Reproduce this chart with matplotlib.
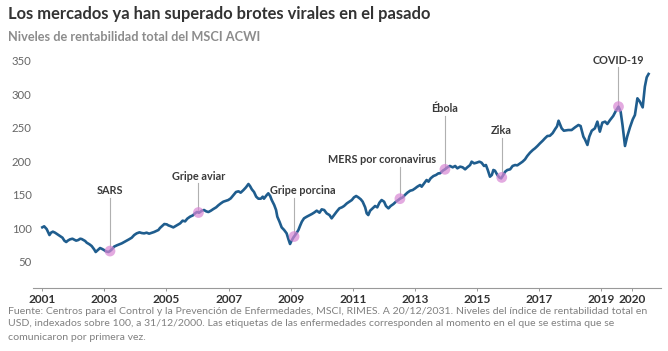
import numpy as np
import matplotlib
matplotlib.use("Agg")
import matplotlib.pyplot as plt

plt.rcParams['font.family'] = ['Lato', 'DejaVu Sans']

# MSCI ACWI total return, indexed 100 at 31/12/2000
years = [
    2001.00, 2001.06, 2001.14, 2001.23, 2001.28, 2001.34, 2001.41, 2001.49, 2001.57, 2001.65,
    2001.71, 2001.77, 2001.82, 2001.89, 2001.97, 2002.03, 2002.09, 2002.16, 2002.22, 2002.27,
    2002.32, 2002.38, 2002.43, 2002.52, 2002.59, 2002.67, 2002.72, 2002.79, 2002.86, 2002.91,
    2002.99, 2003.05, 2003.13, 2003.18, 2003.24, 2003.31, 2003.40, 2003.48, 2003.56, 2003.64,
    2003.72, 2003.79, 2003.88, 2003.96, 2004.04, 2004.13, 2004.20, 2004.28, 2004.36, 2004.44,
    2004.53, 2004.60, 2004.69, 2004.74, 2004.79, 2004.87, 2004.93, 2005.01, 2005.06,
    2005.12, 2005.22, 2005.33, 2005.44, 2005.52, 2005.60, 2005.67, 2005.76, 2005.85, 2005.92,
    2005.98, 2006.05, 2006.14, 2006.21, 2006.28, 2006.35, 2006.43, 2006.51, 2006.60, 2006.67,
    2006.75, 2006.83, 2006.92, 2006.99, 2007.07, 2007.16, 2007.24, 2007.32, 2007.39, 2007.48,
    2007.56, 2007.64, 2007.69, 2007.75, 2007.82, 2007.89, 2007.96, 2008.04, 2008.10, 2008.14,
    2008.23, 2008.28, 2008.34, 2008.39, 2008.47, 2008.53, 2008.57, 2008.64, 2008.71, 2008.79,
    2008.87, 2008.93, 2008.98, 2009.03, 2009.09, 2009.17, 2009.25, 2009.30, 2009.36, 2009.43,
    2009.52, 2009.60, 2009.68, 2009.75,
    2009.84, 2009.93, 2010.00, 2010.08, 2010.16, 2010.25, 2010.32, 2010.40, 2010.48, 2010.57,
    2010.65, 2010.72, 2010.81, 2010.89, 2010.97, 2011.04, 2011.11, 2011.18, 2011.26, 2011.32,
    2011.40, 2011.45, 2011.50, 2011.56, 2011.64, 2011.72, 2011.79, 2011.86, 2011.93, 2012.01,
    2012.07, 2012.15, 2012.22, 2012.31, 2012.39, 2012.47, 2012.52, 2012.61, 2012.68, 2012.76,
    2012.85, 2012.93, 2013.01, 2013.08, 2013.17, 2013.22, 2013.30, 2013.38, 2013.44, 2013.51,
    2013.60, 2013.68, 2013.76,
    2013.81, 2013.90, 2013.97, 2014.05, 2014.13, 2014.22, 2014.30, 2014.37, 2014.46, 2014.54,
    2014.62, 2014.69, 2014.78, 2014.83, 2014.91, 2014.99, 2015.08, 2015.15, 2015.23, 2015.29,
    2015.35, 2015.42, 2015.48, 2015.53, 2015.58, 2015.66, 2015.72, 2015.78, 2015.85, 2015.91,
    2015.98, 2016.07, 2016.15, 2016.23, 2016.30, 2016.39, 2016.47, 2016.55, 2016.62, 2016.71,
    2016.80, 2016.87, 2016.95, 2017.03, 2017.12, 2017.19, 2017.27, 2017.35, 2017.44, 2017.52,
    2017.58, 2017.63,
    2017.73, 2017.80, 2017.94, 2018.05, 2018.16, 2018.27, 2018.34, 2018.43, 2018.48, 2018.56,
    2018.62, 2018.70, 2018.80, 2018.88, 2018.96, 2019.04, 2019.13, 2019.20, 2019.29, 2019.39,
    2019.48, 2019.56, 2019.63, 2019.69, 2019.77, 2019.84, 2019.93, 2020.02, 2020.09, 2020.17,
    2020.25, 2020.34, 2020.41, 2020.47, 2020.53,
]
index_level = [
    101.5, 103.0, 98.9, 90.0, 93.5, 95.0, 93.5, 91.0, 88.5, 86.0,
    81.6, 79.6, 81.6, 83.5, 84.5, 83.0, 81.6, 82.6, 84.5, 84.0,
    82.6, 81.1, 78.6, 76.1, 73.6, 68.6, 64.7, 67.6, 70.6, 69.6,
    67.6, 65.6, 64.7, 66.1, 68.6, 72.6, 74.6, 76.1, 77.6, 79.6,
    81.6, 83.5, 86.0, 90.0, 92.5, 94.0, 93.0, 92.5, 93.5, 92.0,
    93.5, 94.5, 96.5, 97.5, 100.5, 104.0, 106.4, 105.9, 104.4,
    103.4, 101.4, 104.4, 107.4, 111.4, 110.4, 114.4, 117.4, 119.3, 122.3,
    124.3, 123.3, 126.3, 127.3, 125.3, 124.3, 126.3, 128.8, 131.3, 134.3,
    137.2, 139.7, 141.2, 142.2, 144.7, 149.7, 154.2, 155.2, 153.2, 157.1,
    161.1, 166.1, 163.1, 158.1, 154.2, 147.2, 144.2, 144.2, 147.2, 144.2,
    149.7, 152.2, 148.2, 142.2, 134.8, 127.3, 117.4, 109.9, 101.4, 97.5,
    92.5, 83.5, 76.6, 81.6, 86.5, 91.5, 97.5, 103.4, 109.9, 114.9,
    117.4, 119.3, 121.3, 123.3,
    126.3, 123.3, 128.3, 127.3, 122.3, 119.8, 114.9, 119.8, 124.8, 129.8,
    131.3, 133.3, 137.2, 139.7, 142.2, 146.2, 148.2, 146.2, 143.2, 139.7,
    131.3, 122.3, 119.8, 126.3, 129.8, 133.3, 131.3, 138.2, 142.2, 139.7,
    133.3, 129.8, 133.3, 136.2, 139.7, 142.2, 144.2, 146.2, 149.7, 153.2,
    156.1, 157.1, 159.6, 162.1, 164.6, 162.1, 167.1, 172.1, 169.6, 174.6,
    178.0, 179.5, 182.0,
    182.0, 186.0, 188.0, 191.0, 193.0, 191.0, 193.0, 189.5, 192.0, 191.0,
    188.0, 191.0, 194.4, 199.4, 196.9, 197.9, 199.4, 197.9, 193.0, 194.4,
    187.0, 177.0, 179.5, 187.0, 186.0, 179.5, 176.0, 174.5, 179.5, 184.5,
    187.0, 188.0, 193.0, 194.4, 193.9, 196.9, 199.4, 202.9, 207.8, 212.8,
    216.8, 219.3, 222.8, 226.7, 230.7, 234.2, 237.7, 238.0, 242.0, 248.0,
    252.0, 260.5,
    249.1, 245.6, 246.6, 246.6, 250.6, 254.1, 252.6, 236.7, 232.7, 224.3,
    236.7, 245.6, 249.1, 259.1, 244.2, 257.6, 259.1, 255.6, 261.6, 267.5,
    275.5, 281.5, 274.0, 254.1, 222.8, 236.7, 250.6, 262.5, 269.0, 293.9,
    288.9, 280.4, 311.3, 325.2, 330.2,
]

# outbreaks and the date they were first reported (as placed on the chart)
events = ["SARS", "Gripe aviar", "Gripe porcina", "MERS por coronavirus", "Ébola", "Zika", "COVID-19"]
event_years = [2003.18, 2006.03, 2009.11, 2012.52, 2013.97, 2015.80, 2019.56]

xtick_years = [2001, 2003, 2005, 2007, 2009, 2011, 2013, 2015, 2017, 2019, 2020]
ytick_vals = [50, 100, 150, 200, 250, 300, 350]

# label layout (data units): height of each label and horizontal shift from the stem
label_y = [156, 178, 156, 202, 279, 246, 351]
label_dx = [0, 0, 0.27, -0.59, 0, 0, 0]

line_col = '#1f5d8e'
dot_col = '#d887d4'
dark = '#333333'

fig = plt.figure(figsize=(6.68, 3.51), dpi=100)
ax = fig.add_axes([33 / 668, 1 - 288 / 351, (661 - 33) / 668, (288 - 55) / 351])

ax.plot(years, index_level, color=line_col, lw=1.9, solid_joinstyle='round', zorder=3)

ev_vals = np.interp(event_years, years, index_level)
for name, ex, ey, ly, dx in zip(events, event_years, ev_vals, label_y, label_dx):
    ax.plot([ex, ex], [ey, ly - 11], color='#b0b0b0', lw=0.8, zorder=2)
    ax.text(ex + dx, ly, name, ha='center', va='center', fontsize=7.8,
            fontweight='bold', color='#3a3a3a')
ax.scatter(event_years, ev_vals, s=60, color=dot_col, alpha=0.7, edgecolors='none', zorder=4)

ax.set_xlim(2000.70, 2020.93)
ax.set_ylim(11, 358.5)
ax.set_xticks(xtick_years)
ax.set_xticklabels([str(y) for y in xtick_years], fontweight='bold', fontsize=8.6, color=dark)
ax.set_yticks(ytick_vals)
ax.set_yticklabels([str(v) for v in ytick_vals], fontsize=8.2, color='#666666')
ax.tick_params(axis='y', length=0, pad=1)
ax.tick_params(axis='x', length=2.5, width=0.7, color='#999999', pad=2)
for s in ['top', 'right', 'left']:
    ax.spines[s].set_visible(False)
ax.spines['bottom'].set_color('#999999')
ax.spines['bottom'].set_linewidth(0.8)

fig.text(8 / 668, 1 - 14 / 351, "Los mercados ya han superado brotes virales en el pasado",
         fontsize=11.9, fontweight='bold', color=dark, va='center', ha='left')
fig.text(8 / 668, 1 - 37 / 351, "Niveles de rentabilidad total del MSCI ACWI",
         fontsize=9.2, fontweight='bold', color='#8c8c8c', va='center', ha='left')

foot = ["Fuente: Centros para el Control y la Prevención de Enfermedades, MSCI, RIMES. A 20/12/2031. "
        "Niveles del índice de rentabilidad total en",
        "USD, indexados sobre 100, a 31/12/2000. Las etiquetas de las enfermedades corresponden al momento "
        "en el que se estima que se",
        "comunicaron por primera vez."]
for i, line in enumerate(foot):
    fig.text(8 / 668, 1 - (311 + 13 * i) / 351, line, fontsize=7.55, color='#808080',
             va='center', ha='left')

fig.savefig("out.png", dpi=100)
